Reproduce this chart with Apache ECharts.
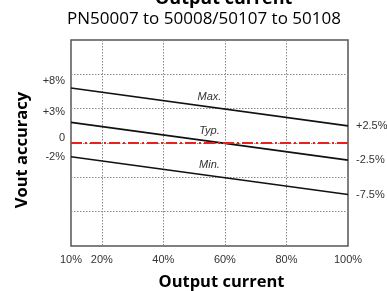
<!DOCTYPE html>
<html>
<head>
<meta charset="utf-8">
<script src="https://cdn.jsdelivr.net/npm/echarts@6/dist/echarts.min.js"></script>
<style>
  html, body { margin: 0; padding: 0; background: #fff; }
  #chart { width: 387px; height: 291px; }
</style>
</head>
<body>
<div id="chart"></div>
<script>
// output current range (%), lines are straight from 10% to 100%
const loadPoints = [10, 100]
const maxVals = [8, 2.5]
const typVals = [3, -2.5]
const minVals = [-2, -7.5]
const lineNames = ['Max.', 'Typ.', 'Min.']

const xLabelValues = [10, 20, 40, 60, 80, 100]
const xGridValues = [20, 40, 60, 80]
const yGridValues = [-10, -5, 0, 5, 10]
const yLabelValues = [8, 3, 0, -2]
const yLabelTexts = ['+8%', '+3%', '0', '-2%']
const rightLabels = ['+2.5%', '-2.5%', '-7.5%']

// the left labels sit a little above their line start in the original
const yLabelStyles = ['a', 'b', 'c', 'd']

const chart = echarts.init(document.getElementById('chart'))

function pairs(vals) {
  return loadPoints.map((x, i) => [x, vals[i]])
}

// label in the middle of a line, just above it
function midNote(vals, name) {
  const mx = (loadPoints[0] + loadPoints[1]) / 2
  const my = (vals[0] + vals[1]) / 2
  return {
    symbolSize: 0,
    label: {
      show: true,
      position: 'top',
      distance: 5,
      fontStyle: 'italic',
      fontSize: 11,
      fontFamily: 'Liberation Sans',
      color: '#333',
      formatter: name
    },
    data: [{coord: [mx, my]}]
  }
}

function lineSeries(vals, idx) {
  return {
    type: 'line',
    data: pairs(vals),
    symbol: 'none',
    silent: true,
    lineStyle: {color: '#111', width: 1.6},
    endLabel: {
      show: true,
      distance: 8,
      fontSize: 11,
      fontFamily: 'Liberation Sans',
      color: '#333',
      formatter: rightLabels[idx]
    },
    markPoint: midNote(vals, lineNames[idx])
  }
}

const labelFont = {fontSize: 11, fontFamily: 'Liberation Sans', color: '#333'}

const option = {
  animation: false,
  title: [
    {
      text: 'Output current',
      left: 155,
      top: -10,
      padding: 0,
      textStyle: {fontFamily: 'Open Sans', fontWeight: 'bold', fontSize: 18, color: '#000'}
    },
    {
      text: 'PN50007 to 50008/50107 to 50108',
      left: 67,
      top: 11,
      padding: 0,
      textStyle: {fontFamily: 'Open Sans', fontWeight: 'normal', fontSize: 17, color: '#000'}
    }
  ],
  grid: {
    left: 71,
    right: 39,
    top: 40,
    bottom: 45,
    outerBoundsMode: 'none',
    containLabel: false,
    show: true,
    borderColor: '#555',
    borderWidth: 1.5
  },
  xAxis: {
    type: 'value',
    min: 10,
    max: 100,
    name: 'Output current',
    nameLocation: 'middle',
    nameGap: 28,
    nameTextStyle: {
      fontFamily: 'Open Sans', fontWeight: 'bold', fontSize: 16.5, color: '#000',
      padding: [0, 0, 0, 24]
    },
    axisLine: {show: false},
    axisTick: {show: false, customValues: xGridValues},
    axisLabel: {
      customValues: xLabelValues,
      margin: 8,
      ...labelFont,
      formatter: v => v + '%'
    },
    splitLine: {show: true, lineStyle: {color: '#888', type: [1.5, 1.5], width: 1}}
  },
  yAxis: {
    type: 'value',
    min: -15,
    max: 15,
    interval: 5,
    name: 'Vout accuracy',
    nameLocation: 'middle',
    nameGap: 40,
    nameTextStyle: {
      fontFamily: 'Open Sans', fontWeight: 'bold', fontSize: 16.5, color: '#000',
      padding: [0, 14, 0, 0]
    },
    axisLine: {show: false},
    axisTick: {show: false, customValues: yGridValues},
    axisLabel: {
      customValues: yLabelValues,
      margin: 6,
      ...labelFont,
      formatter: v => {
        const i = yLabelValues.indexOf(v)
        return '{' + yLabelStyles[i] + '|' + yLabelTexts[i] + '}'
      },
      rich: {
        a: {...labelFont, padding: [0, 0, 14, 0]},
        b: {...labelFont, padding: [0, 0, 20, 0]},
        c: {...labelFont, padding: [0, 0, 10, 0]},
        d: {...labelFont}
      }
    },
    splitLine: {show: true, lineStyle: {color: '#888', type: [1.5, 1.5], width: 1}}
  },
  series: [
    lineSeries(maxVals, 0),
    lineSeries(typVals, 1),
    lineSeries(minVals, 2),
    {
      type: 'line',
      data: [],
      silent: true,
      markLine: {
        symbol: 'none',
        silent: true,
        label: {show: false},
        lineStyle: {color: '#e8211b', width: 2, type: [11, 3, 2, 3]},
        data: [{yAxis: 0}]
      }
    }
  ]
}

chart.setOption(option)
</script>
</body>
</html>
